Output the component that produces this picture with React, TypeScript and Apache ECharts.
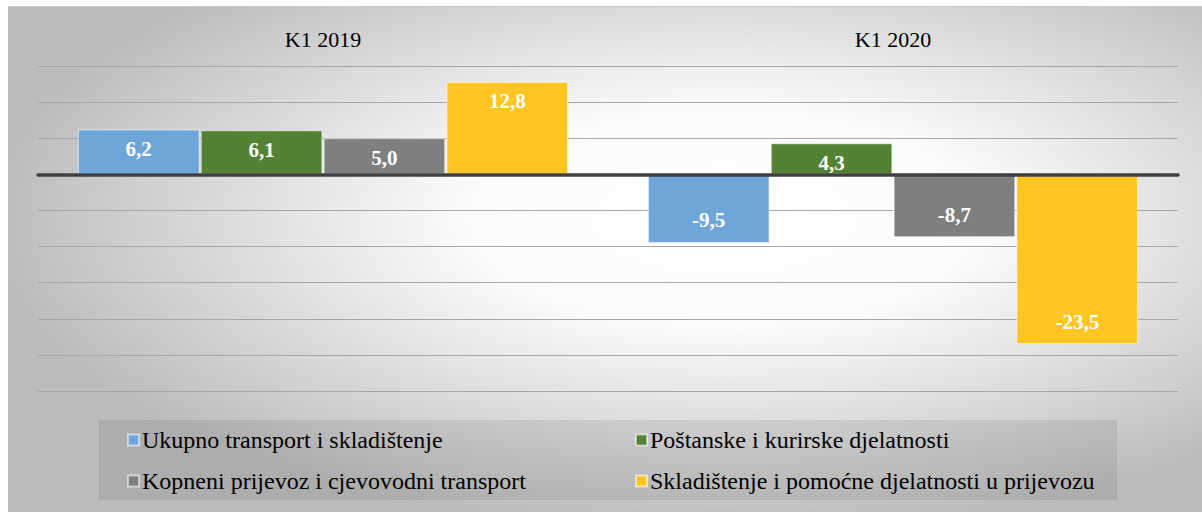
import React, { useEffect, useRef } from "react";
import * as echarts from "echarts";

const categories = ["K1 2019", "K1 2020"];
const seriesNames = [
  "Ukupno transport i skladištenje",
  "Poštanske i kurirske djelatnosti",
  "Kopneni prijevoz i cjevovodni transport",
  "Skladištenje i pomoćne djelatnosti u prijevozu",
];
const ukupno = [6.2, -9.5];
const postanske = [6.1, 4.3];
const kopneni = [5.0, -8.7];
const skladistenje = [12.8, -23.5];
const colors = ["#6FA6D9", "#548235", "#7F7F7F", "#FFC523"];
const yMin = -30;
const yMax = 15;
const yStep = 5;

const SERIF = "Times New Roman, Liberation Serif, serif";

export default function App() {
  const ref = useRef<HTMLDivElement>(null);
  useEffect(() => {
    if (!ref.current) return;
    const chart = echarts.init(ref.current, undefined, { renderer: "svg" });
    const values = [ukupno, postanske, kopneni, skladistenje];
    const series = values.map((vals, i) => ({
      name: seriesNames[i],
      type: "bar",
      xAxisIndex: 0,
      barCategoryGap: "14%",
      barGap: "1%",
      itemStyle: {
        color: colors[i],
        borderColor: "rgba(255,255,255,0.55)",
        borderWidth: 1,
      },
      data: vals.map((v) => ({
        value: v,
        label: {
          position: v >= 0 ? "insideTop" : "insideBottom",
          distance: v >= 0 ? 9 : 12,
        },
      })),
      label: {
        show: true,
        color: "#FFFFFF",
        fontFamily: SERIF,
        fontWeight: "bold",
        fontSize: 21,
        formatter: (p: any) => Number(p.value).toFixed(1).replace(".", ","),
      },
    }));

    const legendPos = [
      { left: 127, top: 428 },
      { left: 635, top: 428 },
      { left: 127, top: 469 },
      { left: 635, top: 469 },
    ];
    const legends = seriesNames.map((n, i) => ({
      data: [n],
      left: legendPos[i].left,
      top: legendPos[i].top,
      padding: 0,
      icon: "rect",
      itemWidth: 11,
      itemHeight: 11,
      itemGap: 4,
      selectedMode: false,
      textStyle: { fontFamily: SERIF, fontSize: 24, color: "#000000", padding: [0, 0, 0, -2] },
    }));

    chart.setOption({
      animation: false,
      textStyle: { fontFamily: SERIF },
      graphic: [
        {
          type: "rect",
          z: -100,
          shape: { x: 8, y: 6, width: 1194, height: 506 },
          style: {
            fill: {
              type: "radial",
              x: 0.6,
              y: 0.42,
              r: 0.62,
              colorStops: [
                { offset: 0, color: "#FFFFFF" },
                { offset: 0.35, color: "#FBFBFB" },
                { offset: 1, color: "#BBBBBB" },
              ],
            },
          },
        },
        {
          type: "line",
          z: -90,
          shape: { x1: 8, y1: 6.5, x2: 1202, y2: 6.5 },
          style: { stroke: "#C8C8C8", lineWidth: 1 },
        },
        {
          type: "rect",
          z: -50,
          shape: { x: 99, y: 420, width: 1018, height: 80 },
          style: { fill: "rgba(0,0,0,0.075)" },
        },
      ],
      legend: legends,
      grid: { left: 38, right: 24, top: 66, bottom: 121 },
      xAxis: [
        {
          type: "category",
          data: categories,
          position: "bottom",
          axisLine: { show: true, onZero: true, lineStyle: { color: "#404040", width: 3.5 } },
          axisTick: { show: false },
          axisLabel: { show: false },
          splitLine: { show: false },
          z: 5,
        },
        {
          type: "category",
          data: categories,
          position: "top",
          axisLine: { show: false },
          axisTick: { show: false },
          axisLabel: {
            show: true,
            margin: 16,
            fontFamily: SERIF,
            fontSize: 22,
            color: "#000000",
          },
          splitLine: { show: false },
        },
      ],
      yAxis: {
        type: "value",
        min: yMin,
        max: yMax,
        interval: yStep,
        axisLabel: { show: false },
        axisLine: { show: false },
        axisTick: { show: false },
        splitLine: { show: true, lineStyle: { color: "#A8A8A8", width: 1.2 } },
      },
      series,
    });
    return () => chart.dispose();
  }, []);
  return (
    <div
      ref={ref}
      style={{ position: "absolute", left: 0, top: 0, width: 1202, height: 512, background: "#FFFFFF" }}
    />
  );
}
